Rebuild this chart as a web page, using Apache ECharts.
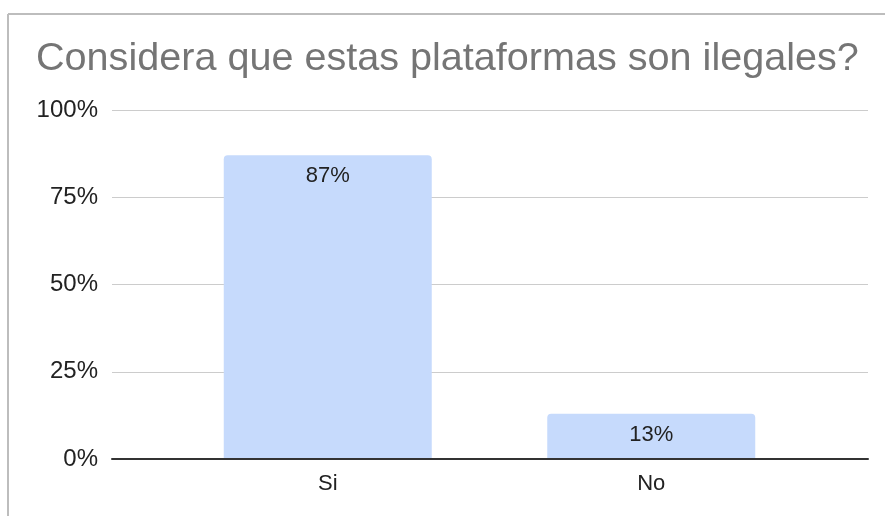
<!DOCTYPE html>
<html>
<head>
<meta charset="utf-8">
<script src="https://cdn.jsdelivr.net/npm/echarts@6/dist/echarts.min.js"></script>
<style>
  html, body { margin: 0; padding: 0; background: #fff; }
  #chart { width: 885px; height: 516px; }
</style>
</head>
<body>
<div id="chart"></div>
<script>
// datos
const categories = ['Si', 'No']
const values = [0.87, 0.13]
const yTicks = [0, 0.25, 0.5, 0.75, 1]

const chart = echarts.init(document.getElementById('chart'))
const font = '"Liberation Sans", Arial, sans-serif'
const pct = v => Math.round(v * 100) + '%'

const options = {
  animation: false,
  title: {
    text: 'Considera que estas plataformas son ilegales?',
    left: 31,
    top: 34,
    textStyle: { fontFamily: font, fontSize: 39.6, fontWeight: 'normal', color: '#757575' }
  },
  // marco de la hoja
  graphic: [
    { type: 'line', shape: { x1: 8, y1: 14, x2: 885, y2: 14 }, style: { stroke: '#bdbdbd', lineWidth: 2 } },
    { type: 'line', shape: { x1: 8, y1: 14, x2: 8, y2: 516 }, style: { stroke: '#bdbdbd', lineWidth: 2 } }
  ],
  grid: [
    // rejilla completa (lineas horizontales y eje)
    { left: 112, right: 17, top: 110, bottom: 57 },
    // zona de las barras
    { left: 166, right: 72, top: 110, bottom: 57 }
  ],
  xAxis: [
    {
      gridIndex: 0, type: 'value', min: 0, max: 1, z: 10,
      axisLine: { show: true, lineStyle: { color: '#333', width: 2 } },
      axisTick: { show: false }, axisLabel: { show: false }, splitLine: { show: false }
    },
    {
      gridIndex: 1, type: 'category', data: categories,
      axisLine: { show: false }, axisTick: { show: false },
      axisLabel: { fontFamily: font, fontSize: 22, color: '#222', margin: 14 }
    }
  ],
  yAxis: [
    {
      gridIndex: 0, type: 'value', min: yTicks[0], max: yTicks[yTicks.length - 1], interval: 0.25,
      axisLine: { show: false }, axisTick: { show: false },
      axisLabel: { fontFamily: font, fontSize: 24, color: '#222', margin: 14, formatter: pct },
      splitLine: { lineStyle: { color: '#cccccc', width: 1 } }
    },
    {
      gridIndex: 1, type: 'value', min: 0, max: 1, show: false
    }
  ],
  series: [
    {
      type: 'bar',
      xAxisIndex: 1,
      yAxisIndex: 1,
      data: values,
      barWidth: 208,
      itemStyle: { color: '#c6dafc', borderRadius: [4, 4, 0, 0] },
      label: {
        show: true, position: 'insideTop', distance: 10,
        fontFamily: font, fontSize: 22, color: '#222', formatter: p => pct(p.value)
      }
    }
  ]
}
chart.setOption(options)
</script>
</body>
</html>
